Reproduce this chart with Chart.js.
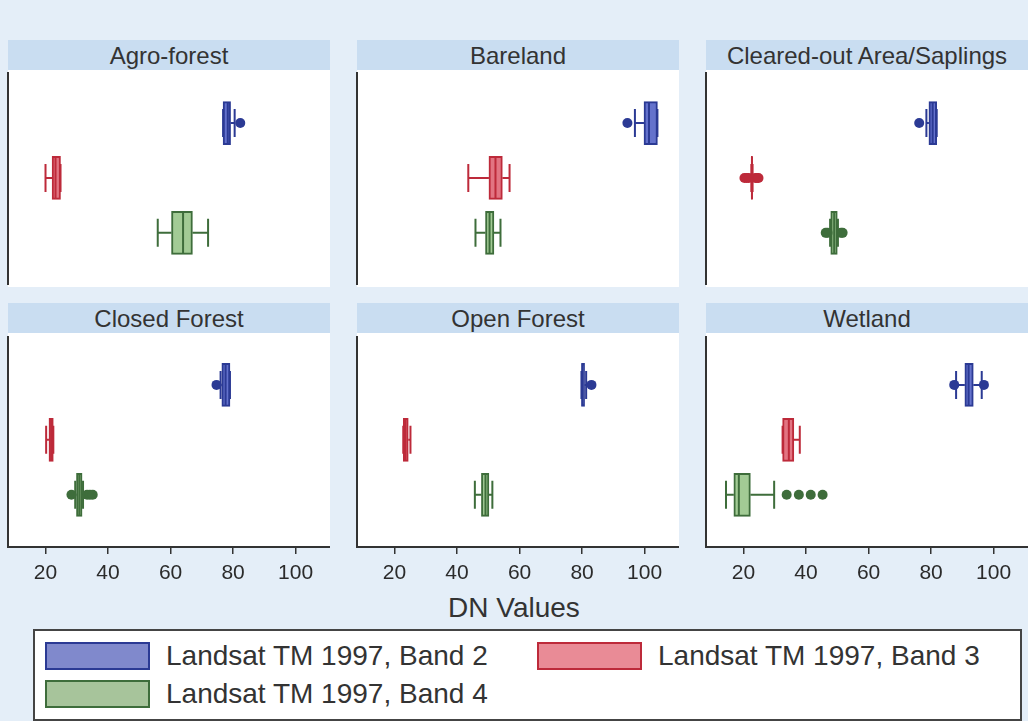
<!DOCTYPE html>
<html>
<head>
<meta charset="utf-8">
<script src="https://cdn.jsdelivr.net/npm/chart.js@4.4.0/dist/chart.umd.min.js"></script>
<style>
  body { margin: 0; width: 1028px; height: 721px; overflow: hidden; position: relative;
         background: #e4eef8; font-family: "Liberation Sans", Arial, sans-serif; color: #333; }
  .head { position: absolute; height: 30px; line-height: 31px; background: #c9ddf1;
          text-align: center; font-size: 24px; color: #333; }
  .plotbg { position: absolute; background: #fff; }
  .panel { position: absolute; }
  #xtitle { position: absolute; left: 0; width: 1028px; top: 592px; text-align: center; font-size: 28px; }
  #legend { position: absolute; left: 33px; top: 629px; width: 985px; height: 88px;
            border: 2px solid #444; background: #fff; }
  .sw { position: absolute; width: 101px; height: 24px; border: 2px solid; }
  .lt { position: absolute; font-size: 28px; line-height: 30px; white-space: nowrap; }
</style>
</head>
<body>
<div id="xtitle">DN Values</div>
<div id="legend"></div>

<script>
// panels and bands
const panels = ['Agro-forest', 'Bareland', 'Cleared-out Area/Saplings', 'Closed Forest', 'Open Forest', 'Wetland'];
const bands = ['Landsat TM 1997, Band 2', 'Landsat TM 1997, Band 3', 'Landsat TM 1997, Band 4'];
const tickLabels = [20, 40, 60, 80, 100];

// [lower whisker, q1, median, q3, upper whisker], one row per panel
const band2 = [
  [76.8, 76.8, 78.3, 79.2, 80.5],
  [96.9, 99.8, 101.4, 104.1, 104.1],
  [78.5, 79.3, 80.5, 81.8, 81.8],
  [76.0, 76.4, 77.6, 79.0, 79.0],
  [79.8, 79.8, 80.2, 80.8, 81.3],
  [88.0, 90.8, 92.0, 93.5, 96.2]
];
const band3 = [
  [20.0, 22.1, 23.2, 24.8, 24.8],
  [43.6, 50.2, 52.3, 54.5, 56.8],
  [22.5, 22.5, 22.7, 22.9, 22.9],
  [20.2, 21.1, 21.8, 22.5, 22.5],
  [22.8, 22.8, 23.5, 24.4, 25.1],
  [32.5, 32.5, 34.5, 36.1, 38.0]
];
const band4 = [
  [55.9, 60.3, 64.0, 67.0, 72.0],
  [45.9, 49.1, 50.4, 51.8, 53.9],
  [47.7, 47.9, 49.0, 50.0, 50.2],
  [29.5, 29.9, 30.8, 31.7, 32.0],
  [45.7, 47.8, 49.1, 50.2, 51.3],
  [14.4, 16.9, 18.5, 22.2, 29.8]
];
// outliers per panel
const band2Out = [[82.3], [94.5], [76.2], [74.7], [83.0], [87.4, 96.9]];
const band3Out = [[], [], [20.3, 21.0, 21.7, 23.8, 24.3, 24.8], [], [], []];
const band4Out = [[], [], [46.3, 46.9, 51.2, 51.7], [28.3, 33.3, 34.2, 35.1], [], [33.8, 37.7, 41.5, 45.3]];

const fills = ['#6472cc', '#e27482', '#a2cb95'];
const lines = ['#2b3a94', '#bd2a3a', '#3e6d3b'];
const swatchFills = ['#8089cc', '#e98b96', '#a7c49b'];

const stats = [band2, band3, band4];
const outs = [band2Out, band3Out, band4Out];

// whiskers, caps, medians and outliers on top of the floating bars
const boxExtras = {
  id: 'boxExtras',
  afterDatasetsDraw(chart) {
    const { ctx, scales: { x, y } } = chart;
    const p = chart.options.plugins.boxExtras.panel;
    ctx.save();
    stats.forEach((band, b) => {
      const [lw, q1, med, q3, uw] = band[p];
      const yc = y.getPixelForValue(b + 1);
      ctx.strokeStyle = lines[b];
      ctx.fillStyle = lines[b];
      ctx.lineWidth = 2;
      ctx.beginPath();
      ctx.moveTo(x.getPixelForValue(lw), yc); ctx.lineTo(x.getPixelForValue(q1), yc);
      ctx.moveTo(x.getPixelForValue(q3), yc); ctx.lineTo(x.getPixelForValue(uw), yc);
      [lw, uw].forEach(v => {
        const px = x.getPixelForValue(v);
        ctx.moveTo(px, yc - 14); ctx.lineTo(px, yc + 14);
      });
      const pm = x.getPixelForValue(med);
      ctx.moveTo(pm, yc - 21); ctx.lineTo(pm, yc + 21);
      ctx.stroke();
      outs[b][p].forEach(v => {
        ctx.beginPath();
        ctx.arc(x.getPixelForValue(v), yc, 5, 0, Math.PI * 2);
        ctx.fill();
      });
    });
    ctx.restore();
  }
};

const colX = [8, 357, 706];
const rows = [
  { head: 40, top: 72, h: 213, min: 0.07, bg: [70, 287] },
  { head: 303, top: 336, h: 211, min: 0.11, bg: [333, 547] }
];

panels.forEach((name, p) => {
  const r = rows[Math.floor(p / 3)];
  const cx = colX[p % 3];
  const bottom = p >= 3;
  const w = p % 3 === 2 ? 1028 - cx : 322;

  const head = document.createElement('div');
  head.className = 'head';
  head.style.cssText = `left:${cx}px;top:${r.head}px;width:${w}px`;
  head.textContent = name;
  document.body.appendChild(head);

  const bg = document.createElement('div');
  bg.className = 'plotbg';
  bg.style.cssText = `left:${cx}px;top:${r.bg[0]}px;width:${w}px;height:${r.bg[1] - r.bg[0]}px`;
  document.body.appendChild(bg);

  const box = document.createElement('div');
  box.className = 'panel';
  const ch = r.h + (bottom ? 48 : 0);
  box.style.cssText = `left:${cx - 2}px;top:${r.top}px;width:324px;height:${ch}px`;
  const can = document.createElement('canvas');
  box.appendChild(can);
  document.body.appendChild(box);

  new Chart(can, {
    type: 'bar',
    data: {
      datasets: bands.map((label, b) => ({
        label,
        data: [{ y: b + 1, x: [stats[b][p][1], stats[b][p][3]] }],
        backgroundColor: fills[b],
        borderColor: lines[b],
        borderWidth: 2,
        borderSkipped: false,
        barThickness: 43,
        grouped: false
      }))
    },
    options: {
      indexAxis: 'y',
      responsive: true,
      maintainAspectRatio: false,
      animation: false,
      layout: { padding: 0 },
      scales: {
        y: {
          type: 'linear', reverse: true, min: r.min, max: 3.95, offset: false,
          ticks: { display: false },
          grid: { display: false, offset: false },
          border: { display: true, color: '#333', width: 2 },
          afterFit: s => { s.width = 2; }
        },
        x: {
          type: 'linear', min: 8, max: 111,
          display: bottom,
          afterBuildTicks: s => { s.ticks = tickLabels.map(v => ({ value: v })); },
          ticks: { font: { size: 21, family: 'Liberation Sans' }, color: '#2b2b2b', padding: 7 },
          grid: { display: true, drawOnChartArea: false, tickLength: 7, color: '#333', lineWidth: 1.5 },
          border: { display: true, color: '#333', width: 2 },
          afterFit: s => { if (bottom) s.height = 48; }
        }
      },
      plugins: {
        legend: { display: false },
        tooltip: { enabled: false },
        boxExtras: { panel: p }
      }
    },
    plugins: [boxExtras]
  });
});

// legend
const leg = document.getElementById('legend');
const spots = [[10, 11], [502, 11], [10, 49]];
bands.forEach((label, b) => {
  const [lx, ly] = spots[b];
  const sw = document.createElement('div');
  sw.className = 'sw';
  sw.style.cssText = `left:${lx}px;top:${ly}px;background:${swatchFills[b]};border-color:${lines[b]}`;
  leg.appendChild(sw);
  const t = document.createElement('div');
  t.className = 'lt';
  t.style.cssText = `left:${lx + 121}px;top:${ly - 1}px`;
  t.textContent = label;
  leg.appendChild(t);
});
</script>
</body>
</html>
